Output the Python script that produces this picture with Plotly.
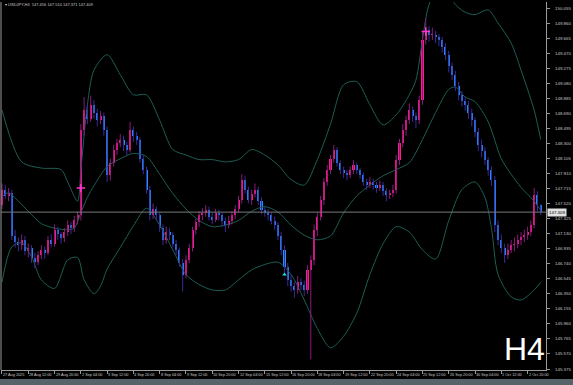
import plotly.graph_objects as go

# ---------------- data ----------------
opens = [147.50,147.70,147.62,147.66,147.10,147.02,146.98,147.05,146.90,146.95,146.82,146.76,146.85,146.92,146.88,147.05,147.00,147.18,147.12,147.07,
         147.15,147.24,147.20,147.31,147.37,148.48,148.73,148.62,148.80,148.70,148.60,148.65,148.48,147.89,148.05,148.22,148.30,148.35,148.28,148.22,
         148.48,148.40,148.35,148.10,147.96,147.70,147.37,147.45,147.37,147.20,147.05,147.15,147.11,147.00,146.92,146.75,146.60,146.79,146.95,147.18,
         147.28,147.37,147.40,147.44,147.35,147.31,147.40,147.37,147.30,147.24,147.30,147.37,147.45,147.57,147.83,147.70,147.57,147.65,147.70,147.55,
         147.44,147.40,147.37,147.30,147.24,147.10,146.92,146.70,146.53,146.45,146.40,146.50,146.47,146.40,146.66,146.79,147.18,147.35,147.57,147.80,
         147.96,148.10,148.22,148.05,147.96,147.92,147.89,147.95,148.02,147.95,147.89,147.80,147.76,147.80,147.76,147.72,147.76,147.68,147.63,147.66,
         147.70,148.09,148.30,148.48,148.60,148.73,148.65,148.60,148.86,149.64,149.77,149.70,149.71,149.68,149.64,149.55,149.45,149.30,149.19,149.05,
         148.93,148.85,148.80,148.70,148.60,148.45,148.28,148.20,148.09,147.95,147.83,147.24,147.05,146.95,146.85,146.92,146.98,147.00,147.05,147.08,
         147.11,147.15,147.24,147.63,147.50]
highs = [147.78,147.76,147.72,147.70,147.18,147.08,147.12,147.10,147.00,146.98,146.88,146.90,146.98,146.96,147.10,147.12,147.25,147.22,147.15,147.20,
         147.30,147.28,147.36,147.42,148.55,148.90,148.80,148.92,148.86,148.75,148.72,148.70,148.52,148.10,148.28,148.36,148.42,148.40,148.32,148.58,
         148.52,148.45,148.38,148.15,148.00,147.75,147.52,147.48,147.40,147.25,147.22,147.20,147.15,147.05,146.95,146.80,146.85,147.00,147.22,147.32,
         147.42,147.46,147.50,147.48,147.40,147.45,147.44,147.40,147.34,147.36,147.42,147.50,147.62,147.90,147.88,147.74,147.70,147.78,147.74,147.60,
         147.48,147.45,147.40,147.35,147.28,147.15,146.98,146.75,146.60,146.50,146.58,146.55,146.52,146.72,146.85,147.25,147.40,147.62,147.85,148.02,
         148.15,148.28,148.25,148.08,148.00,147.96,148.00,148.08,148.05,147.98,147.92,147.84,147.86,147.84,147.80,147.82,147.80,147.72,147.70,147.76,
         148.15,148.36,148.55,148.66,148.82,148.78,148.70,148.92,149.75,149.92,149.82,149.80,149.76,149.72,149.68,149.60,149.50,149.35,149.24,149.10,
         148.98,148.90,148.85,148.75,148.64,148.50,148.35,148.25,148.12,148.00,147.88,147.30,147.12,147.00,147.00,147.05,147.08,147.12,147.15,147.18,
         147.22,147.30,147.72,147.68,147.51]
lows = [147.45,147.58,147.55,147.05,146.95,146.90,146.92,146.85,146.82,146.75,146.68,146.72,146.80,146.80,146.85,146.95,146.96,147.05,147.00,147.02,
        147.10,147.12,147.15,147.25,147.30,148.40,148.55,148.58,148.62,148.52,148.55,148.40,147.80,147.82,148.00,148.15,148.25,148.20,148.15,148.18,
        148.32,148.28,148.05,147.90,147.65,147.30,147.32,147.30,147.15,146.98,147.00,147.05,146.95,146.85,146.70,146.38,146.55,146.75,146.90,147.12,
        147.22,147.30,147.35,147.30,147.25,147.28,147.30,147.22,147.15,147.20,147.25,147.32,147.40,147.52,147.65,147.52,147.50,147.60,147.50,147.38,
        147.35,147.30,147.25,147.18,147.05,146.85,146.62,146.45,146.38,146.30,146.35,146.40,146.32,146.35,145.50,146.72,147.10,147.30,147.50,147.75,
        147.90,148.05,148.00,147.90,147.85,147.82,147.85,147.90,147.90,147.84,147.75,147.70,147.72,147.70,147.66,147.68,147.62,147.55,147.58,147.60,
        147.65,148.02,148.25,148.40,148.55,148.58,148.50,148.55,148.80,149.58,149.62,149.64,149.60,149.56,149.48,149.38,149.22,149.12,148.98,148.86,
        148.78,148.72,148.62,148.52,148.38,148.20,148.12,148.02,147.88,147.75,147.15,146.98,146.88,146.75,146.80,146.88,146.90,146.94,146.98,147.02,
        147.05,147.10,147.20,147.42,147.37]
closes = [147.70,147.62,147.66,147.10,147.02,146.98,147.05,146.90,146.95,146.82,146.76,146.85,146.92,146.88,147.05,147.00,147.18,147.12,147.07,147.15,
          147.24,147.20,147.31,147.37,148.48,148.73,148.62,148.80,148.70,148.60,148.65,148.48,147.89,148.05,148.22,148.30,148.35,148.28,148.22,148.48,
          148.40,148.35,148.10,147.96,147.70,147.37,147.45,147.37,147.20,147.05,147.15,147.11,147.00,146.92,146.75,146.60,146.79,146.95,147.18,147.28,
          147.37,147.40,147.44,147.35,147.31,147.40,147.37,147.30,147.24,147.30,147.37,147.45,147.57,147.83,147.70,147.57,147.65,147.70,147.55,147.44,
          147.40,147.37,147.30,147.24,147.10,146.92,146.70,146.53,146.45,146.40,146.50,146.47,146.40,146.66,146.79,147.18,147.35,147.57,147.80,147.96,
          148.10,148.22,148.05,147.96,147.92,147.89,147.95,148.02,147.95,147.89,147.80,147.76,147.80,147.76,147.72,147.76,147.68,147.63,147.66,147.70,
          148.09,148.30,148.48,148.60,148.73,148.65,148.60,148.86,149.64,149.77,149.70,149.71,149.68,149.64,149.55,149.45,149.30,149.19,149.05,148.93,
          148.85,148.80,148.70,148.60,148.45,148.28,148.20,148.09,147.95,147.83,147.24,147.05,146.95,146.85,146.92,146.98,147.00,147.05,147.08,147.11,
          147.15,147.24,147.63,147.50,147.41]

upper_idx = [0,6,12,18,20,23,24,26,28,32,36,40,44,48,52,56,60,64,68,72,76,80,84,88,92,96,100,104,108,112,116,120,124,126,128,130,134,138,141,144,148,151,155,158,162,164]
upper_val = [148.73,148.06,147.98,147.96,147.80,147.55,147.95,148.80,149.25,149.45,149.19,148.93,148.93,148.60,148.22,148.15,148.09,148.09,148.06,148.09,
             148.22,148.15,148.02,147.83,147.76,148.09,148.55,149.06,149.10,148.80,148.54,148.67,148.93,149.12,149.64,150.10,150.40,150.10,150.00,149.97,
             150.03,149.86,149.60,149.25,148.73,148.35]
mid_idx = [0,2,5,8,12,16,20,22,24,26,28,32,36,40,44,48,52,56,60,64,68,72,76,80,84,88,92,96,100,104,108,112,116,120,124,128,132,136,138,141,144,148,152,155,158,162,164]
mid_val = [147.61,147.66,147.55,147.42,147.26,147.20,147.18,147.20,147.40,147.60,147.75,148.00,148.10,148.17,148.13,147.90,147.65,147.45,147.30,147.22,
           147.24,147.30,147.42,147.48,147.41,147.24,147.11,147.05,147.10,147.40,147.62,147.76,147.88,147.96,148.05,148.35,148.70,149.00,149.03,148.90,
           148.84,148.58,148.10,147.90,147.73,147.55,147.43]
lower_idx = [0,3,6,9,12,16,20,23,25,28,30,32,36,40,44,48,52,56,60,64,68,72,76,80,84,88,92,96,100,104,108,112,116,120,124,128,132,136,140,144,147,149,151,155,158,162,164]
lower_val = [146.50,146.96,147.01,146.83,146.53,146.42,146.79,146.82,146.53,146.35,146.45,146.67,146.95,147.23,147.46,147.24,146.92,146.60,146.47,146.40,
             146.40,146.53,146.66,146.73,146.76,146.60,146.27,145.90,145.65,145.80,146.10,146.60,147.00,147.22,147.15,146.92,146.80,147.30,147.70,147.80,
             147.60,147.20,146.60,146.31,146.27,146.40,146.50]

signal_up_idx = [24, 129]
signal_up_val = [147.72, 149.75]
signal_dn_idx = [86]
signal_dn_val = [146.60]

price_ticks = [150.055,149.860,149.665,149.470,149.275,149.080,148.885,148.690,148.495,148.300,148.105,147.910,147.715,147.520,147.325,147.130,
               146.935,146.740,146.545,146.350,146.155,145.960,145.765,145.570,145.375]
time_tick_idx = list(range(0, 161, 8))
time_tick_text = ["27 Aug 2025","28 Aug 12:00","29 Aug 20:00","2 Sep 04:00","3 Sep 12:00","4 Sep 20:00","8 Sep 04:00","9 Sep 12:00",
                  "10 Sep 20:00","12 Sep 04:00","15 Sep 12:00","16 Sep 20:00","18 Sep 04:00","19 Sep 12:00","22 Sep 20:00","24 Sep 04:00",
                  "25 Sep 12:00","26 Sep 20:00","30 Sep 04:00","1 Oct 12:00","2 Oct 20:00"]
header = "USDJPY,H4  147.456 147.510 147.371 147.409"
current_price = 147.409
symbol_tf = "H4"

# ---------------- figure ----------------
BULL = "#ff1a8c"
BEAR = "#1e90ff"
BULL_WICK = "#8a1a7a"
BEAR_WICK = "#3a2a9a"
BAND = "#1d5e55"
AX = "#9a9a9a"
TXT = "#c8c8c8"
FONT = "Liberation Sans, Arial, sans-serif"

W, H = 573, 385
ML, MR, MT, MB = 1, 27, 2, 15
PH = H - MT - MB

idx = list(range(len(closes)))
fig = go.Figure()

for bx_, by_ in ((upper_idx, upper_val), (mid_idx, mid_val), (lower_idx, lower_val)):
    fig.add_trace(go.Scatter(x=bx_, y=by_, mode="lines",
                             line=dict(color=BAND, width=1, shape="spline", smoothing=0.8),
                             hoverinfo="skip", showlegend=False))

fig.add_hline(y=current_price, line=dict(color="#7a7a7a", width=1))

for bull, wick_col, body_col in ((True, BULL_WICK, BULL), (False, BEAR_WICK, BEAR)):
    wx, wy, bx, by, bb = [], [], [], [], []
    for i in idx:
        o, h, l, c = opens[i], highs[i], lows[i], closes[i]
        if (c >= o) != bull:
            continue
        wx += [i, i, None]
        wy += [l, h, None]
        bx.append(i)
        by.append(max(abs(c - o), 0.012))
        bb.append(min(o, c))
    fig.add_trace(go.Scatter(x=wx, y=wy, mode="lines", line=dict(color=wick_col, width=1),
                             hoverinfo="skip", showlegend=False))
    fig.add_trace(go.Bar(x=bx, y=by, base=bb, marker=dict(color=body_col, line=dict(width=0)),
                         width=0.62, showlegend=False, hoverinfo="skip"))

fig.add_trace(go.Scatter(x=signal_up_idx, y=signal_up_val, mode="markers",
                         marker=dict(symbol="cross-thin", size=6, line=dict(color="#ff33cc", width=1.5)),
                         hoverinfo="skip", showlegend=False))
fig.add_trace(go.Scatter(x=signal_dn_idx, y=signal_dn_val, mode="markers",
                         marker=dict(symbol="triangle-up", size=4, color="#22e0e0"),
                         hoverinfo="skip", showlegend=False))

fig.update_layout(
    width=W, height=H,
    margin=dict(l=ML, r=MR, t=MT, b=MB, pad=0),
    paper_bgcolor="#000000", plot_bgcolor="#000000",
    barmode="overlay", bargap=0,
    hovermode=False,
    font=dict(family=FONT, color=TXT, size=4),
    xaxis=dict(range=[-0.3, 165.6], showgrid=False, zeroline=False,
               tickvals=time_tick_idx, showticklabels=False,
               ticks="outside", ticklen=3, tickcolor=AX,
               showline=True, linecolor=AX, linewidth=1, mirror=False),
    yaxis=dict(range=[145.362, 150.133], side="right", showgrid=False, zeroline=False,
               tickvals=price_ticks, showticklabels=False,
               ticks="outside", ticklen=3, tickcolor=AX,
               showline=True, linecolor=AX, linewidth=1),
)

# left border
fig.add_shape(type="line", xref="paper", yref="paper", x0=0, x1=0, y0=0, y1=1,
              line=dict(color=AX, width=1))

for pv in price_ticks:
    fig.add_annotation(x=1.0, y=pv, xref="paper", yref="y", text=f"{pv:.3f}", showarrow=False,
                       xanchor="left", yanchor="middle", xshift=7,
                       font=dict(size=4.4, color=TXT, family=FONT))

for ti, tt in zip(time_tick_idx, time_tick_text):
    fig.add_annotation(x=ti, y=0, xref="x", yref="paper", text=tt, showarrow=False,
                       xanchor="left", yanchor="top", xshift=-1, yshift=-1,
                       font=dict(size=3.8, color=TXT, family=FONT))

fig.add_annotation(x=0.004, y=1.0, xref="paper", yref="paper", text="▾ " + header, showarrow=False,
                   xanchor="left", yanchor="top", yshift=2, font=dict(size=4, color=TXT, family=FONT))

fig.add_annotation(x=1.0, y=current_price, xref="paper", yref="y", text=f"{current_price:.3f}",
                   showarrow=False, xanchor="left", yanchor="middle", xshift=1, bgcolor="#e0e0e0",
                   font=dict(size=4.4, color="#000000", family=FONT), borderpad=1)

fig.add_annotation(x=1.0, y=0.003, xref="paper", yref="paper", text=symbol_tf, showarrow=False,
                   xanchor="right", yanchor="bottom", xshift=1,
                   font=dict(size=32, color="#ffffff", family=FONT))

# bottom strip
fig.add_shape(type="rect", xref="paper", yref="paper", x0=-0.01, x1=1.06, y0=-(379 - (H - MB)) / PH, y1=-0.08,
              fillcolor="#56646a", line=dict(width=0), layer="below")

fig.write_html("out.html", config={"displayModeBar": False, "staticPlot": True},
               post_script="document.body.style.margin='0';document.body.style.overflow='hidden';")
